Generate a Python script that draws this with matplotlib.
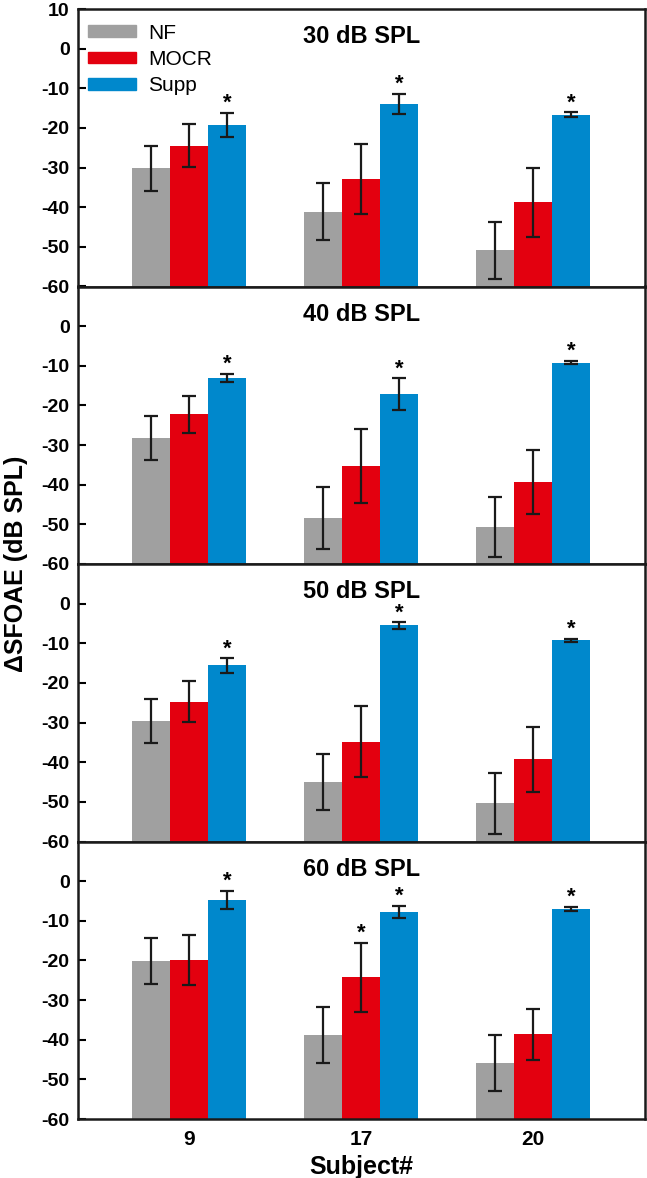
import numpy as np
import matplotlib.pyplot as plt
from matplotlib.patches import Patch

plt.rcParams['font.family'] = ['Liberation Sans', 'DejaVu Sans']
plt.rcParams['axes.unicode_minus'] = False

# data
subjects = ["9", "17", "20"]
levels = ["30 dB SPL", "40 dB SPL", "50 dB SPL", "60 dB SPL"]
series = ["NF", "MOCR", "Supp"]
colors = ["#a0a0a0", "#e3000f", "#0088cc"]

nf_mean = [[-30.2, -41.1, -50.9], [-28.2, -48.4, -50.6], [-29.6, -45.0, -50.4], [-20.1, -38.8, -45.9]]
nf_err = [[5.7, 7.2, 7.2], [5.5, 7.7, 7.6], [5.6, 7.0, 7.6], [5.8, 7.0, 7.0]]
mocr_mean = [[-24.5, -32.9, -38.8], [-22.2, -35.2, -39.3], [-24.7, -34.8, -39.3], [-19.9, -24.3, -38.6]]
mocr_err = [[5.4, 8.9, 8.7], [4.7, 9.3, 8.1], [5.1, 9.0, 8.2], [6.2, 8.7, 6.4]]
supp_mean = [[-19.2, -13.9, -16.7], [-13.1, -17.1, -9.2], [-15.6, -5.5, -9.2], [-4.7, -7.7, -7.0]]
supp_err = [[3.0, 2.5, 0.6], [1.1, 4.0, 0.4], [1.8, 0.8, 0.4], [2.3, 1.5, 0.5]]
# significance stars: (series index, subject index) per panel
stars = [[(2, 0), (2, 1), (2, 2)],
         [(2, 0), (2, 1), (2, 2)],
         [(2, 0), (2, 1), (2, 2)],
         [(2, 0), (1, 1), (2, 1), (2, 2)]]

fig = plt.figure(figsize=(6.47, 11.78), dpi=100)
left, right = 78 / 647, 645 / 647
top, bottom = 1 - 9 / 1178, 1 - 1119 / 1178
h = (top - bottom) / 4

x = np.arange(1, 4)
w = 0.22
for i in range(4):
    ax = fig.add_axes([left, top - (i + 1) * h, right - left, h])
    means = [nf_mean[i], mocr_mean[i], supp_mean[i]]
    errs = [nf_err[i], mocr_err[i], supp_err[i]]
    for k in range(3):
        ax.bar(x + (k - 1) * w, np.array(means[k]) + 60, w, bottom=-60,
               color=colors[k], zorder=2)
        ax.errorbar(x + (k - 1) * w, means[k], yerr=errs[k], fmt='none',
                    ecolor='#1a1a1a', elinewidth=1.6, capsize=5, capthick=1.6, zorder=3)
    for k, j in stars[i]:
        ax.text(x[j] + (k - 1) * w, means[k][j] + errs[k][j] - 0.3, "*",
                ha='center', va='bottom', fontsize=16, fontweight='bold')
    ax.text(0.5, 0.9, levels[i], transform=ax.transAxes, ha='center', va='center',
            fontsize=17, fontweight='bold')
    ax.set_xlim(0.355, 3.65)
    ax.set_ylim(-60, 10)
    if i == 0:
        ax.set_yticks(np.arange(-60, 11, 10))
    else:
        ax.set_yticks(np.arange(-60, 1, 10))
    ax.tick_params(axis='y', direction='in', length=6, width=1.5, labelsize=14, pad=6)
    for lab in ax.get_yticklabels():
        lab.set_fontweight('bold')
    for s in ax.spines.values():
        s.set_linewidth(1.8)
        s.set_color('#1a1a1a')
    if i < 3:
        ax.set_xticks([])
    else:
        ax.set_xticks(x)
        ax.set_xticklabels(subjects, fontsize=15, fontweight='bold')
        ax.tick_params(axis='x', length=0, pad=8)
        ax.set_xlabel("Subject#", fontsize=18, fontweight='bold', labelpad=4)
    if i == 0:
        handles = [Patch(color=c) for c in colors]
        ax.legend(handles, series, loc='upper left', frameon=False, fontsize=15,
                  handlelength=2.3, handleheight=0.5, handletextpad=0.55,
                  labelspacing=0.35, borderaxespad=0.1, bbox_to_anchor=(0.0, 0.985))

fig.text(0.025, (top + bottom) / 2, "ΔSFOAE (dB SPL)", rotation=90, ha='center', va='center',
         fontsize=18, fontweight='bold')

fig.savefig("out.png", dpi=100)
